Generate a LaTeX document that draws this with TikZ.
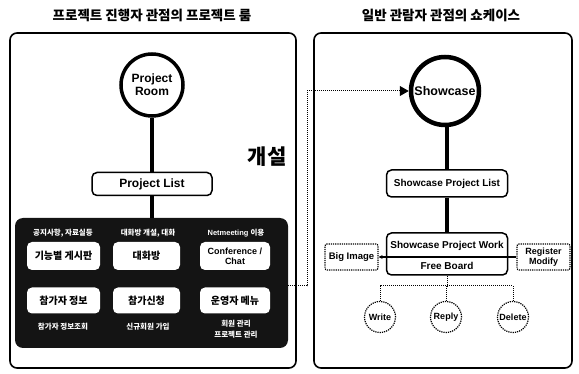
\documentclass[tikz,border=0pt]{standalone}
\usepackage{fontspec}
\setmainfont{Liberation Sans}
\newfontfamily\kr{Noto Sans CJK KR}
\usetikzlibrary{arrows.meta}
\tikzset{
  frame/.style={draw, line width=1.6pt, rounded corners=7pt},
  title/.style={font=\kr\bfseries\fontsize{13.5}{15}\selectfont},
  bigcircle/.style={circle, draw, fill=white, inner sep=0pt, align=center, font=\bfseries\fontsize{12}{13}\selectfont},
  whitebox/.style={draw, line width=1.5pt, rounded corners=5pt, fill=white, inner sep=1pt, font=\bfseries\fontsize{10}{11}\selectfont},
  darkbox/.style={fill=black!92, rounded corners=8pt},
  innerbox/.style={fill=white, rounded corners=5pt, inner sep=1pt, align=center},
  krbold/.style={font=\kr\bfseries\fontsize{10}{11}\selectfont},
  enbold/.style={font=\bfseries\fontsize{9}{10}\selectfont},
  lbl/.style={text=white, inner sep=0pt, align=center, font=\kr\bfseries\fontsize{7.5}{11}\selectfont},
  lblen/.style={text=white, inner sep=0pt, font=\bfseries\fontsize{7.5}{9}\selectfont},
  stem/.style={line width=4pt},
  dots/.style={densely dotted, line width=1pt},
  dashbox/.style={draw, densely dotted, line width=1.2pt, rounded corners=2pt, inner sep=1pt, align=center, font=\bfseries\fontsize{9.5}{10.5}\selectfont},
  dashcircle/.style={circle, draw, densely dotted, line width=1.2pt, minimum size=31pt, inner sep=0pt, font=\bfseries\fontsize{9}{10}\selectfont}
}
\begin{document}
\begin{tikzpicture}[x=1pt,y=-1pt]
\useasboundingbox (0,0) rectangle (579,374);
% titles
\node[title] (t1) at (152,15) {프로젝트 진행자 관점의 프로젝트 룸};
\node[title] (t2) at (441,15) {일반 관람자 관점의 쇼케이스};
% frames
\draw[frame] (10,33) rectangle (296,368);
\draw[frame] (314,33) rectangle (572,368);
% left side
\node[bigcircle, line width=3.5pt, minimum size=62pt] (room) at (152,85) {Project\\Room};
\node[whitebox, minimum width=120pt, minimum height=23pt, font=\bfseries\fontsize{12}{13}\selectfont] (plist) at (152,184) {Project List};
\node[font=\kr\bfseries\fontsize{21}{22}\selectfont] (open) at (267,157) {개설};
\node[darkbox, minimum width=273pt, minimum height=130pt] (dark) at (151.5,283) {};
\draw[stem] (room.south) -- (plist.north);
\draw[stem] (plist.south) -- (plist.south |- dark.north);
% dark box labels
\node[lbl] (l1) at (63,233) {공지사항, 자료실등};
\node[lbl] (l2) at (148,233) {대화방 개설, 대화};
\node[lblen] (l3) at (236,233) {Netmeeting {\kr 이용}};
\node[innerbox, krbold, minimum width=73pt, minimum height=28pt] (b1) at (63.5,256) {기능별 게시판};
\node[innerbox, krbold, minimum width=67pt, minimum height=28pt] (b2) at (146.5,256) {대화방};
\node[innerbox, enbold, minimum width=70pt, minimum height=28pt] (b3) at (235,256) {Conference /\\Chat};
\node[innerbox, krbold, minimum width=73pt, minimum height=26pt] (b4) at (63.5,300.5) {참가자 정보};
\node[innerbox, krbold, minimum width=67pt, minimum height=26pt] (b5) at (146.5,300.5) {참가신청};
\node[innerbox, krbold, minimum width=70pt, minimum height=26pt] (b6) at (235,300.5) {운영자 메뉴};
\node[lbl] (l4) at (63,327) {참가자 정보조회};
\node[lbl] (l5) at (148,327) {신규회원 가입};
\node[lbl] (l6) at (236,329) {회원 관리\\프로젝트 관리};
% right side
\node[bigcircle, line width=4.5pt, minimum size=68pt, font=\bfseries\fontsize{12.5}{14}\selectfont] (sc) at (445,91) {Showcase};
\node[whitebox, minimum width=121pt, minimum height=27pt] (slist) at (447,183.5) {Showcase Project List};
\node[whitebox, minimum width=121pt, minimum height=42pt] (spw) at (447,254) {};
\node[inner sep=0pt, font=\bfseries\fontsize{10}{11}\selectfont] (spwt) at (447,245.5) {Showcase Project Work};
\node[inner sep=0pt, font=\bfseries\fontsize{10}{11}\selectfont] (fb) at (447,266) {Free Board};
\draw[stem] (sc.south -| slist.north) -- (slist.north);
\draw[stem] (slist.south) -- (spw.north);
\node[dashbox, minimum width=53pt, minimum height=26pt] (big) at (351.5,257) {Big Image};
\node[dashbox, minimum width=53pt, minimum height=26pt, font=\bfseries\fontsize{9}{9.5}\selectfont] (reg) at (543.5,257) {Register\\Modify};
\draw[line width=1.3pt, {Stealth[length=4pt,width=4pt]}-] (big.east) -- (reg.west);
% tree
\coordinate (bus) at (447,286);
\node[dashcircle] (write) at (380,317) {Write};
\node[dashcircle] (reply) at (446,317) {Reply};
\node[dashcircle] (del) at (513,317) {Delete};
\draw[dots] (spw.south) -- (bus);
\draw[dots] (write.north) -- (write.north |- bus) -- (del.north |- bus) -- (del.north);
\draw[dots] (reply.north |- bus) -- (reply.north);
% dotted connector
\coordinate (c1) at (307,286);
\draw[dots, -{Triangle[length=9pt,width=10pt]}] (dark.east |- c1) -- (c1) |- (sc.west);
\end{tikzpicture}
\end{document}
